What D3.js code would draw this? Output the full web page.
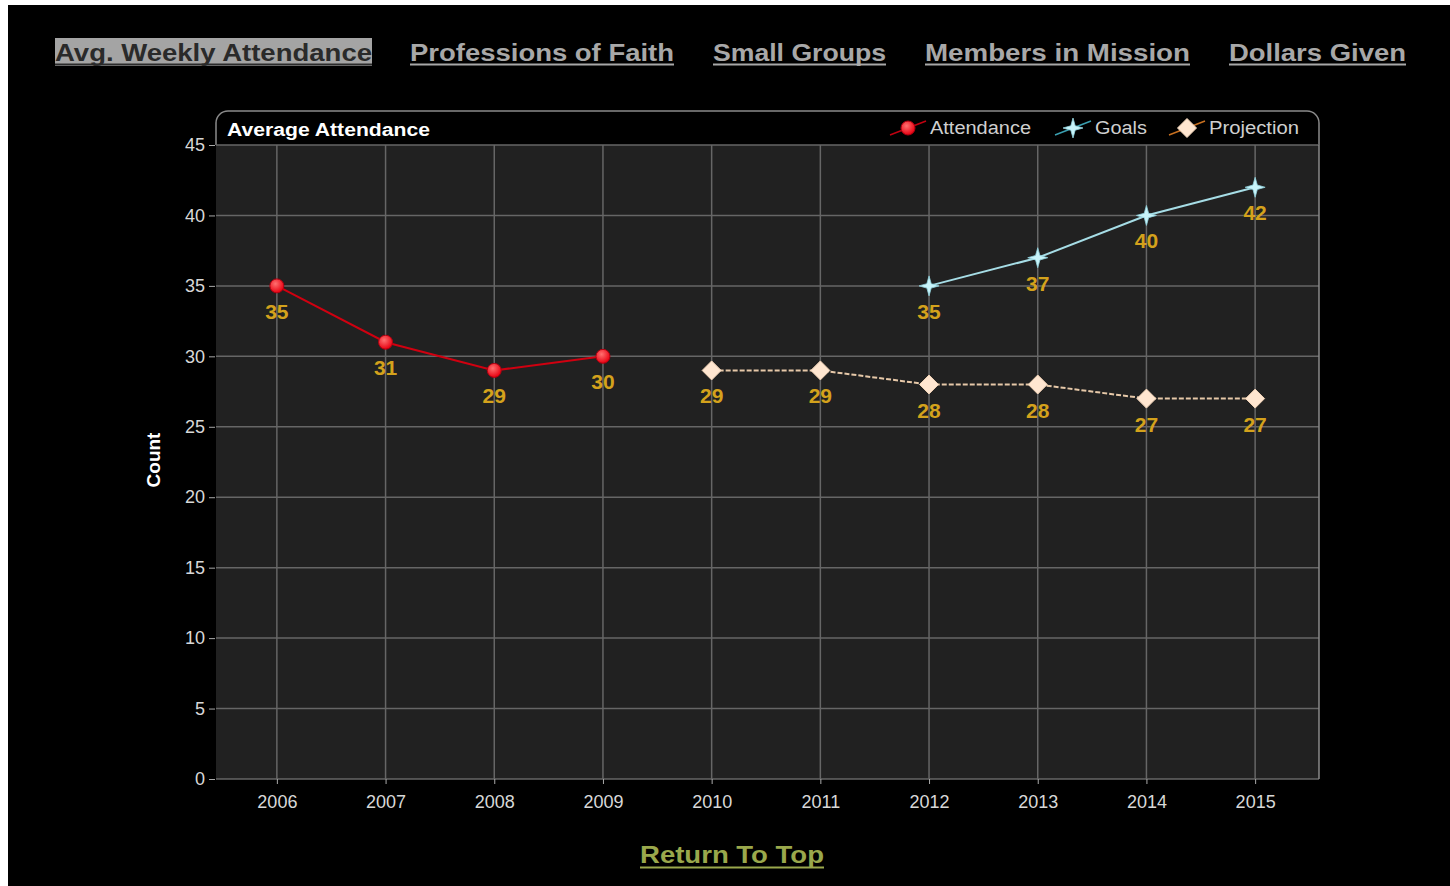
<!DOCTYPE html>
<html>
<head>
<meta charset="utf-8">
<script src="https://cdn.jsdelivr.net/npm/d3@7"></script>
<style>
  body { margin: 0; background: #fff; }
  svg { display: block; font-family: "Liberation Sans", Arial, sans-serif; }
</style>
</head>
<body>
<div id="chart"></div>
<script>
'use strict';

// data ---------------------
const years       = ['2006','2007','2008','2009','2010','2011','2012','2013','2014','2015']
const attendance  = [{year:'2006', v:35}, {year:'2007', v:31}, {year:'2008', v:29}, {year:'2009', v:30}]
const goals       = [{year:'2012', v:35}, {year:'2013', v:37}, {year:'2014', v:40}, {year:'2015', v:42}]
const projection  = [{year:'2010', v:29}, {year:'2011', v:29}, {year:'2012', v:28}, {year:'2013', v:28}, {year:'2014', v:27}, {year:'2015', v:27}]
const yTicks      = [0,5,10,15,20,25,30,35,40,45]
const navLinks    = ['Avg. Weekly Attendance','Professions of Faith','Small Groups','Members in Mission','Dollars Given']
const seriesNames = ['Attendance','Goals','Projection']

// layout ---------------------
const W = 1450, H = 886
const plot = {left: 216, right: 1319, top: 145, bottom: 779}
const grid_color  = '#666'
const label_color = '#d4a21c'
const tick_color  = '#d8d8d8'

const svg = d3.select('#chart').append('svg')
    .attr('width', W)
    .attr('height', H)

const defs = svg.append('defs')
const rg = defs.append('radialGradient').attr('id','redball').attr('cx','40%').attr('cy','35%').attr('r','65%')
rg.append('stop').attr('offset','0%').attr('stop-color','#ff7070')
rg.append('stop').attr('offset','100%').attr('stop-color','#e80010')

// page background
svg.append('rect').attr('x', 8).attr('y', 5).attr('width', W - 8).attr('height', H - 5).attr('fill', '#000')

// NAV LINKS ---------------------
const navX = [55, 410, 713, 925, 1229]
const navW = [317, 264, 173, 265, 177]
svg.append('rect').attr('x', 55).attr('y', 38).attr('width', 317).attr('height', 28).attr('fill', '#a4a4a4')
const nav = svg.append('g')
navLinks.forEach(function(t, i) {
    nav.append('text')
        .attr('x', navX[i]).attr('y', 61)
        .attr('textLength', navW[i]).attr('lengthAdjust', 'spacingAndGlyphs')
        .attr('font-size', 23).attr('font-weight', 'bold')
        .attr('fill', i == 0 ? '#2a2a2a' : '#a8a8a8')
        .text(t)
    nav.append('line')
        .attr('x1', navX[i]).attr('x2', navX[i] + navW[i])
        .attr('y1', 64.5).attr('y2', 64.5)
        .attr('stroke', i == 0 ? '#2a2a2a' : '#a8a8a8').attr('stroke-width', 2)
})

// scales ---------------------
const x = d3.scalePoint().domain(years).range([plot.left, plot.right - 3]).padding(0.56)
const y = d3.scaleLinear().domain([0, 45]).range([plot.bottom, plot.top])

// header box with rounded top corners
const rr = 12
svg.append('path')
    .attr('d', `M${plot.left},${plot.top} V${111 + rr} A${rr},${rr} 0 0 1 ${plot.left + rr},111 H${plot.right - rr} A${rr},${rr} 0 0 1 ${plot.right},${111 + rr} V${plot.top}`)
    .attr('fill', '#000').attr('stroke', '#8a8a8a').attr('stroke-width', 1.5)

svg.append('text').attr('x', 227).attr('y', 136)
    .attr('textLength', 203).attr('lengthAdjust', 'spacingAndGlyphs')
    .attr('font-size', 18).attr('font-weight', 'bold').attr('fill', '#fff')
    .text('Average Attendance')

// plot area
svg.append('rect')
    .attr('x', plot.left).attr('y', plot.top)
    .attr('width', plot.right - plot.left).attr('height', plot.bottom - plot.top)
    .attr('fill', '#212121')

// grid
svg.append('g').selectAll('line').data(yTicks).enter().append('line')
    .attr('x1', plot.left).attr('x2', plot.right)
    .attr('y1', function(d){return y(d)}).attr('y2', function(d){return y(d)})
    .attr('stroke', grid_color).attr('stroke-width', 1.5)
svg.append('g').selectAll('line').data(years).enter().append('line')
    .attr('x1', function(d){return x(d)}).attr('x2', function(d){return x(d)})
    .attr('y1', plot.top).attr('y2', plot.bottom)
    .attr('stroke', grid_color).attr('stroke-width', 1.5)
svg.append('line').attr('x1', plot.right).attr('x2', plot.right).attr('y1', plot.top).attr('y2', plot.bottom)
    .attr('stroke', '#8a8a8a').attr('stroke-width', 1.5)

// axes ---------------------
const yAxis = svg.append('g').attr('transform', `translate(${plot.left - 1},0)`)
    .call(d3.axisLeft(y).tickValues(yTicks).tickSize(6).tickPadding(4))
const xAxis = svg.append('g').attr('transform', `translate(0,${plot.bottom})`)
    .call(d3.axisBottom(x).tickSize(5).tickPadding(11))
;[yAxis, xAxis].forEach(function(a) {
    a.select('.domain').remove()
    a.selectAll('line').attr('stroke', '#aaa')
    a.selectAll('text').attr('fill', tick_color).attr('font-size', 18)
        .attr('font-family', '"Liberation Sans", Arial, sans-serif')
})

svg.append('text')
    .attr('transform', 'translate(160,460) rotate(-90)')
    .attr('text-anchor', 'middle')
    .attr('font-size', 19).attr('font-weight', 'bold').attr('fill', '#fff')
    .text('Count')

// markers ---------------------
function star(s) {
    const w = s * 0.22
    return `M0,${-s} L${w},${-w} L${s},0 L${w},${w} L0,${s} L${-w},${w} L${-s},0 L${-w},${-w} Z`
}
function diamond(s) {
    return `M0,${-s} L${s},0 L0,${s} L${-s},0 Z`
}

const line = d3.line().x(function(d){return x(d.year)}).y(function(d){return y(d.v)})

// projection
svg.append('path').datum(projection).attr('d', line)
    .attr('fill', 'none').attr('stroke', '#e6c8a8').attr('stroke-width', 2).attr('stroke-dasharray', '5,2')
svg.append('g').selectAll('path').data(projection).enter().append('path')
    .attr('transform', function(d){return `translate(${x(d.year)},${y(d.v)})`})
    .attr('d', diamond(9.5))
    .attr('fill', '#ffe6d0').attr('stroke', '#f2d4b8').attr('stroke-width', 1)

// goals
svg.append('path').datum(goals).attr('d', line)
    .attr('fill', 'none').attr('stroke', '#a6dde6').attr('stroke-width', 2)
svg.append('g').selectAll('path').data(goals).enter().append('path')
    .attr('transform', function(d){return `translate(${x(d.year)},${y(d.v)})`})
    .attr('d', star(10))
    .attr('fill', '#c8f4fa').attr('stroke', '#8fd0dc').attr('stroke-width', 0.8)

// attendance
svg.append('path').datum(attendance).attr('d', line)
    .attr('fill', 'none').attr('stroke', '#d00010').attr('stroke-width', 2)
svg.append('g').selectAll('circle').data(attendance).enter().append('circle')
    .attr('cx', function(d){return x(d.year)}).attr('cy', function(d){return y(d.v)})
    .attr('r', 7)
    .attr('fill', 'url(#redball)').attr('stroke', '#b00010').attr('stroke-width', 1)

// value labels
const allPoints = attendance.concat(goals, projection)
svg.append('g').selectAll('text').data(allPoints).enter().append('text')
    .attr('x', function(d){return x(d.year)}).attr('y', function(d){return y(d.v) + 33})
    .attr('text-anchor', 'middle')
    .attr('font-size', 21).attr('font-weight', 'bold').attr('fill', label_color)
    .text(function(d){return d.v})

// legend ---------------------
const legX = [908, 1073, 1187]
const legW = [101, 52, 90]
const legLine = ['#c00010', '#3a9fb0', '#c87020']
const leg = svg.append('g')
seriesNames.forEach(function(name, i) {
    const g = leg.append('g').attr('transform', `translate(${legX[i]},128)`)
    g.append('line').attr('x1', -18).attr('y1', 7).attr('x2', 18).attr('y2', -7)
        .attr('stroke', legLine[i]).attr('stroke-width', 1.5)
    if (i == 0) {
        g.append('circle').attr('r', 7).attr('fill', 'url(#redball)').attr('stroke', '#b00010')
    } else if (i == 1) {
        g.append('path').attr('d', star(10)).attr('fill', '#c8f4fa').attr('stroke', '#8fd0dc').attr('stroke-width', 0.8)
    } else {
        g.append('path').attr('d', diamond(9.5)).attr('fill', '#ffe6d0').attr('stroke', '#f2d4b8')
    }
    g.append('text').attr('x', 22).attr('y', 6)
        .attr('textLength', legW[i]).attr('lengthAdjust', 'spacingAndGlyphs')
        .attr('font-size', 18).attr('fill', '#cfcfcf')
        .text(name)
})

// RETURN TO TOP ---------------------
svg.append('text').attr('x', 640).attr('y', 863)
    .attr('textLength', 184).attr('lengthAdjust', 'spacingAndGlyphs')
    .attr('font-size', 23).attr('font-weight', 'bold').attr('fill', '#9aa84c')
    .text('Return To Top')
svg.append('line').attr('x1', 640).attr('x2', 824).attr('y1', 867.5).attr('y2', 867.5)
    .attr('stroke', '#9aa84c').attr('stroke-width', 2)
</script>
</body>
</html>
